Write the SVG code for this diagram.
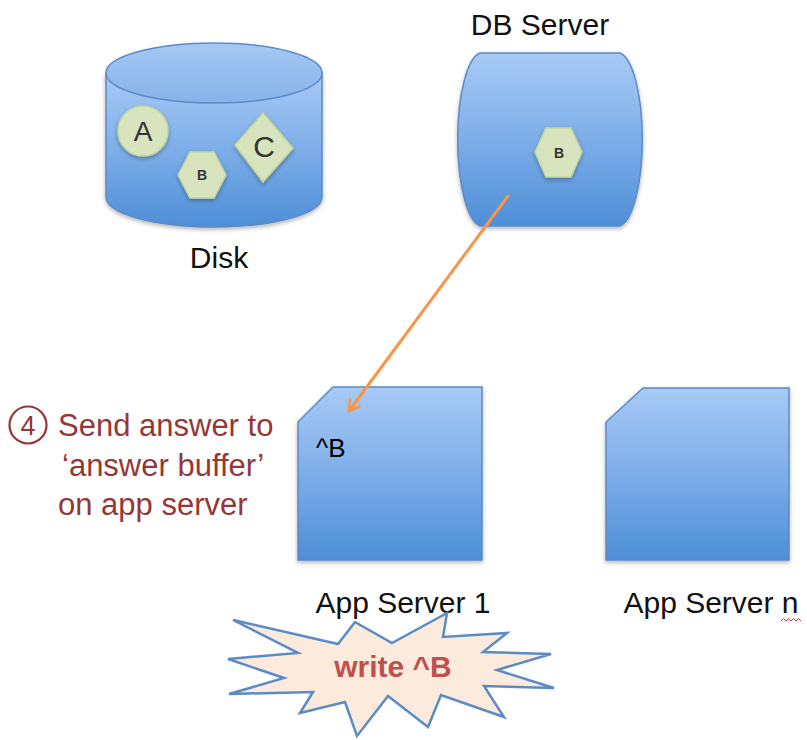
<svg xmlns="http://www.w3.org/2000/svg" width="807" height="740" viewBox="0 0 807 740">
<style>
  .lbl { font-family: "Liberation Sans", Arial, sans-serif; font-size: 30px; fill: #111; }
  .note { font-family: "Liberation Sans", Arial, sans-serif; font-size: 31px; fill: #953735; }
  .shape { fill: url(#blue); stroke: #5B8BC6; stroke-width: 1.5; filter: url(#shadow); }
  .item { fill: #D7E4BD; stroke: #C3D69B; stroke-width: 1.5; filter: url(#shadow); }
  .itxt { font-family: "Liberation Sans", Arial, sans-serif; fill: #333; text-anchor: middle; }
</style>
<defs>
  <linearGradient id="blue" x1="0" y1="0" x2="0" y2="1">
    <stop offset="0" stop-color="#A8CAF6"/>
    <stop offset="0.5" stop-color="#7DAEE8"/>
    <stop offset="1" stop-color="#4E8ED7"/>
  </linearGradient>
  <linearGradient id="lid" x1="0" y1="0" x2="0" y2="1">
    <stop offset="0" stop-color="#A6C8F4"/>
    <stop offset="1" stop-color="#86B3EA"/>
  </linearGradient>
  <filter id="shadow" x="-10%" y="-10%" width="130%" height="130%">
    <feDropShadow dx="0" dy="2" stdDeviation="2" flood-color="#000" flood-opacity="0.3"/>
  </filter>
  <marker id="arrow" viewBox="0 0 14 14" refX="11" refY="7" markerWidth="14" markerHeight="14" markerUnits="userSpaceOnUse" orient="auto">
    <path d="M1,1 L11,7 L1,13" fill="none" stroke="#F79646" stroke-width="2.5" stroke-linecap="round" stroke-linejoin="round"/>
  </marker>
</defs>
<rect width="807" height="740" fill="#fff"/>

<g id="disk">
  <path class="shape" d="M106,73 L106,197 A108,30 0 0,0 322,197 L322,73 Z"/>
  <ellipse cx="214" cy="73" rx="108" ry="30" fill="url(#lid)" stroke="#5B8BC6" stroke-width="1.5"/>
  <g id="item-a">
    <circle class="item" cx="143" cy="131" r="25"/>
    <text class="itxt" x="143" y="141" font-size="28">A</text>
  </g>
  <g id="item-b">
    <polygon class="item" points="178,175 190,152 214,152 226,175 214,198 190,198"/>
    <text class="itxt" x="202" y="180" font-size="14" font-weight="bold" fill="#111">B</text>
  </g>
  <g id="item-c">
    <polygon class="item" points="263,113 293,148 263,182 235,145"/>
    <text class="itxt" x="264" y="157" font-size="30">C</text>
  </g>
  <text class="lbl" x="219" y="268" text-anchor="middle">Disk</text>
</g>

<g id="db-server">
  <text class="lbl" x="540" y="35" text-anchor="middle">DB Server</text>
  <path class="shape" d="M480,53 L620,53 A25,87 0 0,1 620,226 L480,226 A25,87 0 0,1 480,53 Z"/>
  <g id="item-b2">
    <polygon class="item" points="535,152 546,128 571,128 582,152 571,177 546,177"/>
    <text class="itxt" x="559" y="158" font-size="14" font-weight="bold" fill="#111">B</text>
  </g>
</g>

<g id="app-server-1">
  <path class="shape" d="M333,387 L482,387 L482,560 L298,560 L298,422 Z"/>
  <text x="316" y="457" font-family="Liberation Sans, Arial, sans-serif" font-size="26" fill="#000">^B</text>
  <text class="lbl" x="403" y="613" text-anchor="middle">App Server 1</text>
</g>

<g id="app-server-n">
  <path class="shape" d="M643,388 L789,388 L789,560 L606,560 L606,422 Z"/>
  <text class="lbl" x="711" y="613" text-anchor="middle">App Server n</text>
  <path d="M781,621 l2.5,-2.5 l2.5,2.5 l2.5,-2.5 l2.5,2.5 l2.5,-2.5 l2.5,2.5 l2.5,-2.5 l2.5,2.5" fill="none" stroke="#E03030" stroke-width="1"/>
</g>

<g id="step-4">
  <circle cx="28" cy="425" r="18.5" fill="none" stroke="#953735" stroke-width="2.2"/>
  <text x="28" y="435" text-anchor="middle" font-family="Liberation Sans, Arial, sans-serif" font-size="27" fill="#953735">4</text>
  <text class="note" x="58" y="436">Send answer to</text>
  <text class="note" x="62" y="476">‘answer buffer’</text>
  <text class="note" x="58" y="515">on app server</text>
</g>

<g id="connectors">
  <line x1="508" y1="196" x2="349" y2="411" stroke="#F79646" stroke-width="3" stroke-linecap="round" marker-end="url(#arrow)"/>
</g>

<g id="write-burst">
  <polygon points="392,643 447,613 443,637 507,633 483,652 551,654 497,670 554,688 484,686 504,717 441,695 428,727 388,696 357,736 345,702 300,713 313,692 229,694 284,678 228,659 298,653 233,620 338,644 355,622" fill="#FCEBDD" stroke="#5B8BC6" stroke-width="2.5" stroke-linejoin="miter"/>
  <text x="393" y="677" text-anchor="middle" font-family="Liberation Sans, Arial, sans-serif" font-size="30" font-weight="bold" fill="#C0504D">write ^B</text>
</g>
</svg>
